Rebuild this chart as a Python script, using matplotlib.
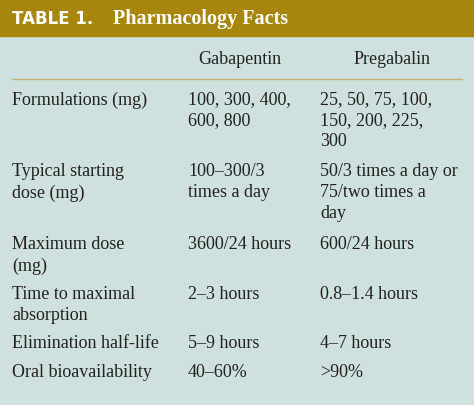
import matplotlib
matplotlib.use("Agg")
import matplotlib.pyplot as plt
from matplotlib.patches import Rectangle
from matplotlib.lines import Line2D

title_num = "TABLE 1."
title_txt = "Pharmacology Facts"
columns = ["Gabapentin", "Pregabalin"]
row_labels = [["Formulations (mg)"], ["Typical starting", "dose (mg)"], ["Maximum dose", "(mg)"],
              ["Time to maximal", "absorption"], ["Elimination half-life"], ["Oral bioavailability"]]
gaba = [["100, 300, 400,", "600, 800"], ["100\u2013300/3", "times a day"], ["3600/24 hours"],
        ["2\u20133 hours"], ["5\u20139 hours"], ["40\u201360%"]]
preg = [["25, 50, 75, 100,", "150, 200, 225,", "300"], ["50/3 times a day or", "75/two times a", "day"],
        ["600/24 hours"], ["0.8\u20131.4 hours"], ["4\u20137 hours"], [">90%"]]
row_tops = [100, 172, 245, 295, 344, 373]

W, H = 474, 406
fig = plt.figure(figsize=(W/100, H/100), dpi=100)
fig.patch.set_facecolor("#CFE1DE")
def px(x, y): return x / W, 1 - y / H
fig.patches.append(Rectangle((0, 1 - 37/H), 1, 37/H, transform=fig.transFigure, color="#A8860C"))
fig.text(*px(12, 19), title_num, color="white", fontsize=12, fontweight="bold",
         family="DejaVu Sans", va="center")
fig.text(*px(113, 19), title_txt, color="white", fontsize=14.5, fontweight="bold",
         family="Liberation Serif", va="center")
serif = dict(family="Liberation Serif", fontsize=13, color="#222222", va="center")
fig.text(*px(240, 60), columns[0], ha="center", **serif)
fig.text(*px(392, 60), columns[1], ha="center", **serif)
fig.lines.append(Line2D([12/W, 462/W], [1-80/H]*2, transform=fig.transFigure, color="#C8B477", lw=1))
lh = 21
for top, lab, g, p in zip(row_tops, row_labels, gaba, preg):
    for xs, lines in ((12, lab), (188, g), (320, p)):
        for i, s in enumerate(lines):
            fig.text(*px(xs, top + i * lh), s, ha="left", **serif)
fig.savefig("out.png", dpi=100, facecolor=fig.get_facecolor())
